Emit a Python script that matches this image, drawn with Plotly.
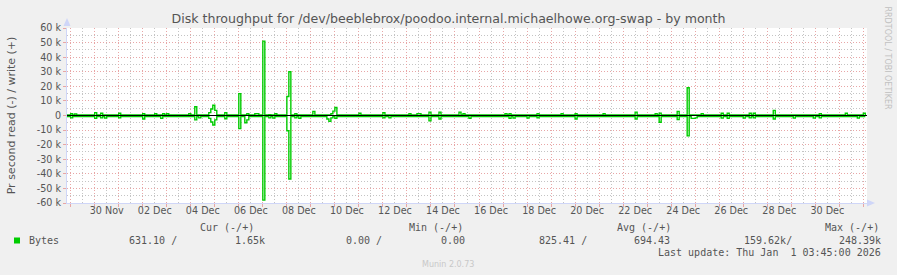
import plotly.graph_objects as go
import pandas as pd

# ---------------- data (kB/s, 2-hour averages) ----------------
START = "2025-11-28 20:00"
STEP = "2h"

write_k = [
    0.3, 0.3, 1.2, 0.3, 1.0, 0.3, 0.3, 0.3, 0.3, 0.3, 0.3, 0.3,
    0.3, 0.3, 2.0, 0.3, 0.3, 1.5, 0.3, 0.3, 0.3, 0.3, 0.3, 0.3,
    0.3, 0.3, 1.5, 0.3, 0.3, 0.3, 0.3, 0.3, 0.3, 0.3, 0.3, 0.3,
    0.3, 0.3, 1.2, 0.3, 0.3, 0.3, 0.3, 0.3, 1.2, 0.3, 0.3, 0.3,
    1.2, 0.3, 1.2, 0.3, 0.3, 0.3, 0.3, 0.3, 0.3, 0.3, 0.3, 0.3,
    0.3, 1.2, 0.3, 0.3, 6.0, 0.3, 0.3, 0.3, 0.3, 0.3, 0.3, 2.0,
    4.5, 7.0, 3.5, 0.3, 0.3, 0.3, 0.3, 2.0, 0.3, 0.3, 0.3, 0.3,
    0.3, 0.3, 15.0, 0.3, 0.3, 0.3, 1.2, 0.3, 0.3, 0.3, 1.2, 1.2,
    0.3, 0.3, 51.0, 0.3, 0.3, 0.6, 0.3, 0.3, 1.2, 0.3, 0.3, 0.3,
    0.3, 0.3, 13.0, 30.0, 0.3, 0.3, 1.2, 0.3, 0.3, 0.3, 0.3, 0.3,
    0.3, 0.3, 0.3, 2.8, 0.3, 0.3, 0.3, 0.3, 0.3, 0.3, 0.3, 0.3,
    1.2, 3.0, 5.5, 0.3, 0.3, 0.3, 0.3, 0.3, 0.3, 0.3, 0.3, 0.3,
    0.3, 0.3, 1.5, 0.3, 0.3, 0.3, 0.3, 0.3, 0.3, 0.3, 0.3, 0.3,
    0.3, 0.3, 2.0, 0.3, 0.3, 0.3, 0.3, 0.3, 0.3, 0.3, 0.3, 0.3,
    0.3, 0.3, 0.3, 1.2, 0.3, 0.3, 0.3, 1.2, 1.2, 0.3, 0.3, 0.3,
    0.3, 2.3, 0.3, 0.3, 0.3, 0.3, 2.3, 0.3, 0.3, 0.3, 0.3, 0.3,
    0.3, 0.3, 0.3, 0.3, 2.3, 0.3, 1.2, 0.3, 0.3, 0.3, 0.3, 0.3,
    0.3, 0.3, 0.3, 0.3, 0.3, 0.3, 0.3, 0.3, 0.3, 0.3, 0.3, 0.3,
    0.3, 0.3, 0.3, 1.2, 0.3, 1.2, 0.3, 0.3, 0.3, 0.3, 0.3, 0.3,
    0.3, 0.3, 0.3, 0.3, 0.3, 0.3, 0.3, 1.3, 0.3, 0.3, 0.3, 0.3,
    0.3, 0.3, 0.3, 0.3, 0.3, 0.3, 0.3, 1.2, 0.3, 0.3, 0.3, 0.3,
    0.3, 0.3, 1.2, 0.3, 0.3, 0.3, 0.3, 0.3, 0.3, 0.3, 0.3, 0.3,
    0.3, 0.3, 0.3, 0.3, 1.2, 0.3, 0.3, 0.3, 0.3, 0.3, 0.3, 0.3,
    0.3, 0.3, 0.3, 0.3, 0.3, 0.3, 0.3, 0.3, 2.3, 0.3, 0.3, 0.3,
    0.3, 0.3, 0.3, 0.3, 0.3, 0.3, 1.2, 0.3, 1.6, 0.3, 0.3, 0.3,
    0.3, 0.3, 0.3, 0.3, 0.3, 2.8, 0.3, 0.3, 0.3, 0.3, 19.0, 0.3,
    0.3, 0.3, 0.3, 0.3, 0.3, 1.2, 0.3, 0.3, 0.3, 0.3, 0.3, 0.3,
    0.3, 0.3, 0.3, 1.5, 0.3, 0.3, 1.5, 0.3, 0.3, 0.3, 0.3, 0.3,
    0.3, 0.3, 0.3, 0.3, 0.3, 1.5, 0.3, 1.5, 0.3, 0.3, 0.3, 0.3,
    0.3, 0.3, 0.3, 0.3, 0.3, 3.5, 0.3, 0.3, 0.3, 0.3, 0.3, 0.3,
    0.3, 0.3, 0.3, 0.3, 0.3, 0.3, 0.3, 0.3, 0.3, 0.3, 0.3, 0.3,
    0.3, 0.3, 0.3, 0.3, 1.2, 0.3, 0.3, 0.3, 0.3, 0.3, 0.3, 0.3,
    0.3, 0.3, 0.3, 0.3, 0.3, 1.5, 0.3, 0.3, 0.3, 0.3, 0.3, 0.3,
    0.3, 0.3, 1.5, 0.3,
]

read_k = [
    0.7, 0.7, 1.6, 0.7, 0.7, 0.7, 0.7, 0.7, 0.7, 0.7, 0.7, 0.7,
    0.7, 0.7, 2.0, 0.7, 0.7, 1.6, 0.7, 1.8, 0.7, 0.7, 0.7, 0.7,
    0.7, 0.7, 1.6, 0.7, 0.7, 0.7, 0.7, 0.7, 0.7, 0.7, 0.7, 0.7,
    0.7, 0.7, 2.4, 0.7, 0.7, 0.7, 0.7, 0.7, 0.7, 0.7, 0.7, 2.0,
    0.7, 0.7, 0.7, 0.7, 0.7, 0.7, 0.7, 0.7, 0.7, 0.7, 0.7, 0.7,
    0.7, 0.7, 0.7, 0.7, 3.0, 0.7, 1.6, 0.7, 0.7, 0.7, 0.7, 2.0,
    4.5, 6.5, 3.0, 0.7, 0.7, 0.7, 0.7, 2.2, 0.7, 0.7, 0.7, 0.7,
    0.7, 0.7, 9.0, 0.7, 0.7, 5.0, 3.0, 0.7, 0.7, 0.7, 0.7, 0.7,
    0.7, 0.7, 58.0, 0.7, 0.7, 1.6, 0.7, 1.8, 0.7, 0.7, 0.7, 0.7,
    0.7, 0.7, 10.5, 43.5, 0.7, 0.7, 1.6, 0.7, 2.0, 0.7, 0.7, 0.7,
    0.7, 0.7, 0.7, 0.7, 0.7, 0.7, 0.7, 0.7, 0.7, 0.7, 2.4, 4.0,
    1.6, 0.7, 2.0, 0.7, 0.7, 0.7, 0.7, 0.7, 0.7, 0.7, 0.7, 0.7,
    0.7, 0.7, 0.7, 0.7, 0.7, 0.7, 0.7, 0.7, 0.7, 0.7, 0.7, 0.7,
    0.7, 0.7, 1.6, 0.7, 0.7, 1.6, 0.7, 0.7, 0.7, 0.7, 0.7, 0.7,
    0.7, 0.7, 0.7, 0.7, 0.7, 0.7, 0.7, 0.7, 0.7, 0.7, 0.7, 0.7,
    0.7, 3.7, 0.7, 0.7, 0.7, 0.7, 2.4, 0.7, 0.7, 0.7, 0.7, 0.7,
    0.7, 0.7, 0.7, 0.7, 0.7, 0.7, 0.7, 0.7, 0.7, 2.0, 0.7, 0.7,
    0.7, 0.7, 0.7, 0.7, 0.7, 0.7, 0.7, 0.7, 0.7, 0.7, 0.7, 0.7,
    0.7, 0.7, 0.7, 0.7, 0.7, 2.0, 0.7, 1.8, 0.7, 0.7, 0.7, 0.7,
    0.7, 0.7, 1.8, 0.7, 0.7, 0.7, 0.7, 1.6, 0.7, 0.7, 0.7, 0.7,
    0.7, 0.7, 0.7, 0.7, 0.7, 0.7, 0.7, 0.7, 0.7, 0.7, 0.7, 0.7,
    0.7, 0.7, 2.4, 0.7, 0.7, 0.7, 0.7, 0.7, 0.7, 0.7, 0.7, 0.7,
    0.7, 0.7, 0.7, 0.7, 0.7, 0.7, 0.7, 0.7, 0.7, 0.7, 0.7, 0.7,
    0.7, 0.7, 0.7, 0.7, 0.7, 0.7, 0.7, 0.7, 2.4, 0.7, 0.7, 0.7,
    0.7, 0.7, 0.7, 0.7, 0.7, 0.7, 0.7, 0.7, 4.6, 0.7, 0.7, 0.7,
    0.7, 0.7, 0.7, 0.7, 0.7, 2.8, 0.7, 0.7, 0.7, 0.7, 14.0, 0.7,
    2.0, 2.0, 1.6, 0.7, 0.7, 0.7, 0.7, 0.7, 0.7, 0.7, 0.7, 0.7,
    0.7, 0.7, 0.7, 1.8, 0.7, 0.7, 2.0, 0.7, 0.7, 0.7, 0.7, 0.7,
    0.7, 0.7, 1.8, 0.7, 0.7, 1.6, 0.7, 1.6, 0.7, 0.7, 0.7, 0.7,
    0.7, 0.7, 0.7, 0.7, 0.7, 2.4, 0.7, 0.7, 0.7, 0.7, 0.7, 0.7,
    0.7, 0.7, 0.7, 1.8, 0.7, 0.7, 0.7, 0.7, 0.7, 0.7, 0.7, 0.7,
    0.7, 1.8, 0.7, 0.7, 1.6, 0.7, 0.7, 0.7, 0.7, 0.7, 0.7, 0.7,
    0.7, 0.7, 0.7, 0.7, 0.7, 0.7, 0.7, 0.7, 0.7, 0.7, 0.7, 1.8,
    0.7, 0.7, 0.7, 0.7,
]

y_ticks = [60, 50, 40, 30, 20, 10, 0, -10, -20, -30, -40, -50, -60]
y_tick_labels = ["60 k", "50 k", "40 k", "30 k", "20 k", "10 k", "0",
                 "-10 k", "-20 k", "-30 k", "-40 k", "-50 k", "-60 k"]
x_label_dates = ["2025-11-30", "2025-12-02", "2025-12-04", "2025-12-06",
                 "2025-12-08", "2025-12-10", "2025-12-12", "2025-12-14",
                 "2025-12-16", "2025-12-18", "2025-12-20", "2025-12-22",
                 "2025-12-24", "2025-12-26", "2025-12-28", "2025-12-30"]
x_tick_labels = ["30 Nov", "02 Dec", "04 Dec", "06 Dec", "08 Dec", "10 Dec",
                 "12 Dec", "14 Dec", "16 Dec", "18 Dec", "20 Dec", "22 Dec",
                 "24 Dec", "26 Dec", "28 Dec", "30 Dec"]

series_name = "Bytes"
cur_vals = ["631.10", "1.65k"]
min_vals = ["0.00", "0.00"]
avg_vals = ["825.41", "694.43"]
max_vals = ["159.62k", "248.39k"]
last_update = "Last update: Thu Jan  1 03:45:00 2026"
title = "Disk throughput for /dev/beeblebrox/poodoo.internal.michaelhowe.org-swap - by month"
X_RANGE = ["2025-11-28 20:20", "2026-01-01 03:40"]

# ---------------- layout constants ----------------
W, H = 897, 275
L, R, T, B = 67, 30, 28, 72
PW, PH = W - L - R, H - T - B
GREEN = "#00CC00"
FONT = "#555555"
AXIS = "#CFD6F8"
MGRID = "#E8A6A6"
GRID = "#C4C4C4"
DASH = "1px,2px"
MONO = "DejaVu Sans Mono"
SANS = "DejaVu Sans"


def px(x):
    return (x - L) / PW


def py(y):
    return (H - B - y) / PH


times = pd.date_range(START, periods=len(write_k), freq=STEP)
midnights = pd.date_range("2025-11-29", "2026-01-01", freq="D")
label_pos = [pd.Timestamp(d) + pd.Timedelta(hours=12) for d in x_label_dates]

fig = go.Figure()
fig.add_trace(go.Scatter(x=times, y=write_k, mode="lines", line_shape="hv",
                         line=dict(color=GREEN, width=1.4), showlegend=False,
                         hoverinfo="skip"))
fig.add_trace(go.Scatter(x=times, y=[-v for v in read_k], mode="lines",
                         line_shape="hv", line=dict(color=GREEN, width=1.4),
                         showlegend=False, hoverinfo="skip"))
# invisible trace to anchor the label axis
fig.add_trace(go.Scatter(x=[times[0]], y=[0], xaxis="x2", mode="markers",
                         marker=dict(opacity=0), showlegend=False,
                         hoverinfo="skip"))

fig.update_layout(
    width=W, height=H,
    margin=dict(l=L, r=R, t=T, b=B),
    paper_bgcolor="#F0F0F0",
    plot_bgcolor="#FFFFFF",
    title=dict(text=title, x=0.5, xanchor="center", y=1 - 19 / H,
               yanchor="middle", yref="container",
               font=dict(family=SANS, size=12.6, color=FONT)),
    xaxis=dict(
        type="date", range=X_RANGE,
        tickmode="array", tickvals=list(midnights), showticklabels=False,
        ticks="outside", ticklen=3, tickcolor=MGRID,
        showgrid=True, gridcolor=MGRID, griddash=DASH, gridwidth=1,
        minor=dict(dtick=43200000, tick0="2025-11-29 12:00", showgrid=True,
                   gridcolor=GRID, griddash=DASH, gridwidth=1, ticks=""),
        showline=True, linecolor=AXIS, linewidth=1, zeroline=False,
        layer="below traces",
    ),
    xaxis2=dict(
        type="date", range=X_RANGE, overlaying="x", side="bottom",
        anchor="y", tickmode="array", tickvals=label_pos,
        ticktext=x_tick_labels, showgrid=False, ticks="",
        tickfont=dict(family=SANS, size=9.6, color=FONT),
        showline=False, zeroline=False,
    ),
    yaxis=dict(
        range=[-60, 60], tickmode="array", tickvals=y_ticks,
        ticktext=y_tick_labels, ticks="outside", ticklen=3,
        tickcolor=MGRID,
        tickfont=dict(family=SANS, size=9.6, color=FONT),
        showgrid=True, gridcolor=MGRID, griddash=DASH, gridwidth=1,
        minor=dict(dtick=5, tick0=0, showgrid=True, gridcolor=GRID,
                   griddash=DASH, gridwidth=1, ticks=""),
        showline=True, linecolor=AXIS, linewidth=1, zeroline=False,
        title=dict(text="Pr second read (-) / write (+)", standoff=18,
                   font=dict(family=SANS, size=11, color=FONT)),
    ),
)

shapes = [
    # zero line
    dict(type="line", xref="paper", yref="y", x0=0, x1=1, y0=0, y1=0,
         line=dict(color="#000000", width=1), layer="above"),
    # arrows
    dict(type="path", xref="paper", yref="paper",
         path=f"M {px(63.5)} {py(26)} L {px(70.5)} {py(26)} L {px(67)} {py(18)} Z",
         fillcolor=AXIS, line=dict(width=0)),
    dict(type="path", xref="paper", yref="paper",
         path=f"M {px(867)} {py(199.5)} L {px(867)} {py(206.5)} L {px(875)} {py(203)} Z",
         fillcolor=AXIS, line=dict(width=0)),
    # legend swatch
    dict(type="rect", xref="paper", yref="paper",
         x0=px(14), x1=px(20), y0=py(243.5), y1=py(237.5),
         fillcolor=GREEN, line=dict(width=0)),
]
fig.update_layout(shapes=shapes)


def ann(text, x, y, xanchor="left", size=10, color=FONT, family=MONO,
        angle=0):
    return dict(text=text, x=px(x), y=py(y), xref="paper", yref="paper",
                xanchor=xanchor, yanchor="middle", showarrow=False,
                textangle=angle, font=dict(family=family, size=size,
                                           color=color))


anns = [
    ann("Cur (-/+)", 198, 227),
    ann("Min (-/+)", 407, 227),
    ann("Avg (-/+)", 615, 227),
    ann("Max (-/+)", 823, 227),
    ann(series_name, 26.5, 240),
    ann(cur_vals[0] + " /", 127, 240),
    ann(cur_vals[1], 267, 240, "right"),
    ann(min_vals[0] + " /", 344, 240),
    ann(min_vals[1], 467, 240, "right"),
    ann(avg_vals[0] + " /", 537, 240),
    ann(avg_vals[1], 672, 240, "right"),
    ann(max_vals[0] + "/", 742, 240),
    ann(max_vals[1], 883, 240, "right"),
    ann(last_update, 883, 252, "right"),
    ann("Munin 2.0.73", 448, 264, "center", size=8, color="#C8C8C8",
        family=SANS),
    dict(text="RRDTOOL / TOBI OETIKER", x=px(887), y=py(5), xref="paper",
         yref="paper", xanchor="center", yanchor="top", showarrow=False,
         textangle=90, font=dict(family=SANS, size=8, color="#C0C0C0")),
]
fig.update_layout(annotations=anns)

fig.write_html("out.html")
